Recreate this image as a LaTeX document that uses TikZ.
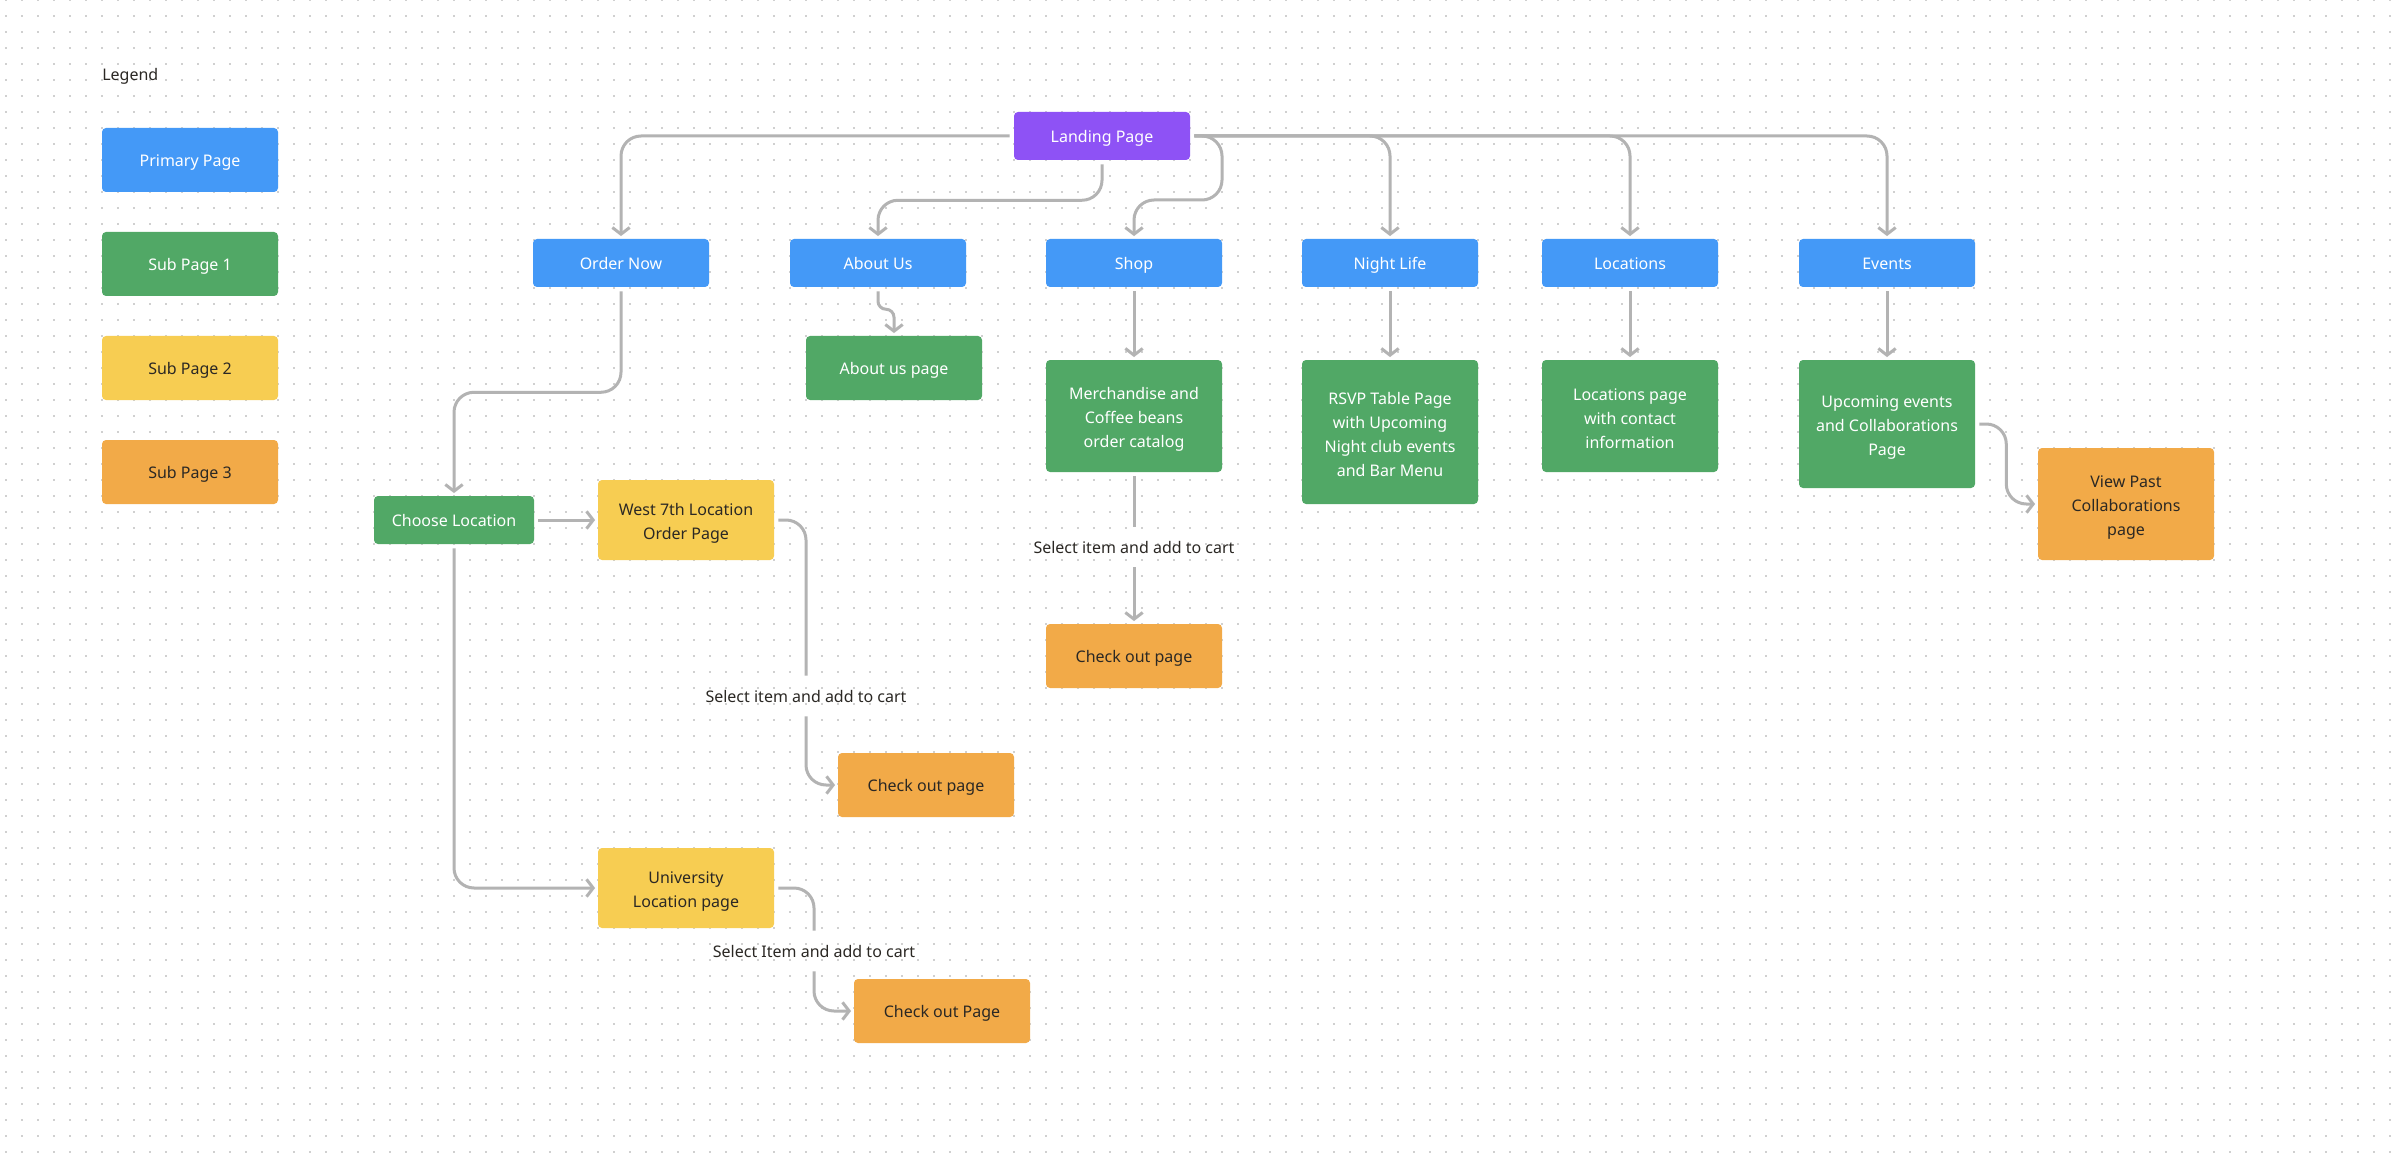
\documentclass[tikz,border=0pt]{standalone}
\usepackage{fontspec}
\setmainfont{Noto Sans}
\usetikzlibrary{arrows.meta,calc}
\definecolor{cblue}{HTML}{4499F7}
\definecolor{cgreen}{HTML}{51A866}
\definecolor{cyellow}{HTML}{F7CD52}
\definecolor{corange}{HTML}{F2AA48}
\definecolor{cpurple}{HTML}{8E52F5}
\definecolor{lgray}{HTML}{B3B3B3}
\definecolor{dotc}{HTML}{D0D0D0}
\definecolor{tdark}{HTML}{2B2824}
\newcommand\tstrut{\rule{0pt}{13.5pt}}
\begin{document}
\begin{tikzpicture}[x=0.75pt,y=-0.75pt,
  font=\fontsize{12}{18}\selectfont,
  box/.style={rectangle, rounded corners=3pt, minimum width=132pt, inner sep=0pt, align=center},
  one/.style={text height=11.5pt, text depth=2pt},
  bluebox/.style={box, one, fill=cblue, text=white, minimum height=36pt},
  greenbox/.style={box, fill=cgreen, text=white},
  yellowbox/.style={box, fill=cyellow, text=tdark},
  orangebox/.style={box, fill=corange, text=tdark},
  purplebox/.style={box, one, fill=cpurple, text=white, minimum height=36pt},
  lbl/.style={inner sep=0pt, minimum height=30pt, text=tdark},
  plain/.style={draw=lgray, line width=2.25pt, rounded corners=15pt, shorten <=3pt},
  conn/.style={plain, shorten >=2pt, -{Straight Barb[length=5pt,width=13pt]}},
]
\fill[white] (0,0) rectangle (2404,1162);
\useasboundingbox (0,0) rectangle (2404,1162);
\foreach \yy in {0,16,...,1162} {
  \draw[dotc, line width=1.2pt, dash pattern=on 1.2pt off 10.8pt] (5.2,\yy) -- (2404,\yy);
}

% legend
\node[anchor=west, inner sep=0pt, text=tdark] (legend) at (102,76) {Legend};
\node[bluebox, minimum height=48pt] (lp) at (190,160) {Primary Page};
\node[greenbox, one, minimum height=48pt] (l1) at (190,264) {Sub Page 1};
\node[yellowbox, one, minimum height=48pt] (l2) at (190,368) {Sub Page 2};
\node[orangebox, one, minimum height=48pt] (l3) at (190,472) {Sub Page 3};

% main nodes
\node[purplebox] (landing) at (1102,136) {Landing Page};
\node[bluebox] (order) at (621,263) {Order Now};
\node[bluebox] (about) at (878,263) {About Us};
\node[bluebox] (shop) at (1134,263) {Shop};
\node[bluebox] (night) at (1390,263) {Night Life};
\node[bluebox] (locs) at (1630,263) {Locations};
\node[bluebox] (events) at (1887,263) {Events};

\node[greenbox, one, minimum height=48pt] (aboutpg) at (894,368) {About us page};
\node[greenbox, minimum height=84pt] (merch) at (1134,416) {\tstrut Merchandise and\\Coffee beans\\order catalog};
\node[greenbox, minimum height=108pt] (rsvp) at (1390,432) {\tstrut RSVP Table Page\\with Upcoming\\Night club events\\and Bar Menu};
\node[greenbox, minimum height=84pt] (locpg) at (1630,416) {\tstrut Locations page\\with contact\\information};
\node[greenbox, minimum height=96pt] (upcoming) at (1887,424) {\tstrut Upcoming events\\and Collaborations\\Page};
\node[orangebox, minimum height=84pt] (viewpast) at (2126,504) {\tstrut View Past\\Collaborations\\page};

\node[greenbox, one, minimum width=120pt, minimum height=36pt] (choose) at (454,520) {Choose Location};
\node[yellowbox, minimum height=60pt] (west) at (686,520) {\tstrut West 7th Location\\Order Page};
\node[yellowbox, minimum height=60pt] (uni) at (686,888) {\tstrut University\\Location page};

\node[orangebox, one, minimum height=48pt] (co1) at (1134,656) {Check out page};
\node[orangebox, one, minimum height=48pt] (co2) at (926,785) {Check out page};
\node[orangebox, one, minimum height=48pt] (co3) at (942,1011) {Check out Page};

\node[lbl] (s1) at (1134,547) {Select item and add to cart};
\node[lbl] (s2) at (806,696) {Select item and add to cart};
\node[lbl] (s3) at (814,951) {Select Item and add to cart};

% connectors from landing
\draw[conn] (landing.west) -| (order.north);
\draw[conn] (landing.south) -- ++(0,40) -| (about.north);
\draw[conn] (landing.east) -| (1222,200) -| (shop.north);
\draw[conn] (landing.east) -| (night.north);
\draw[conn] (landing.east) -| (locs.north);
\draw[conn] (landing.east) -| (events.north);

% primary -> sub
\draw[conn, rounded corners=6pt] (about.south) -- ++(0,22) -| (aboutpg.north);
\draw[conn] (shop.south) -- (merch.north);
\draw[conn] (night.south) -- (rsvp.north);
\draw[conn] (locs.south) -- (locpg.north);
\draw[conn] (events.south) -- (upcoming.north);
\draw[conn] (upcoming.east) -- ++(31,0) |- (viewpast.west);

% shop checkout
\draw[plain] (merch.south) -- (s1.north);
\draw[conn, shorten <=0pt] (s1.south) -- (co1.north);

% order flow
\draw[conn] (order.south) -- ++(0,105) -| (choose.north);
\draw[conn] (choose.east) -- (west.west);
\draw[conn] (choose.south) |- (uni.west);
\draw[plain] (west.east) -| (s2.north);
\draw[conn, shorten <=0pt] (s2.south) |- (co2.west);
\draw[plain] (uni.east) -| (s3.north);
\draw[conn, shorten <=0pt] (s3.south) |- (co3.west);
\end{tikzpicture}
\end{document}
